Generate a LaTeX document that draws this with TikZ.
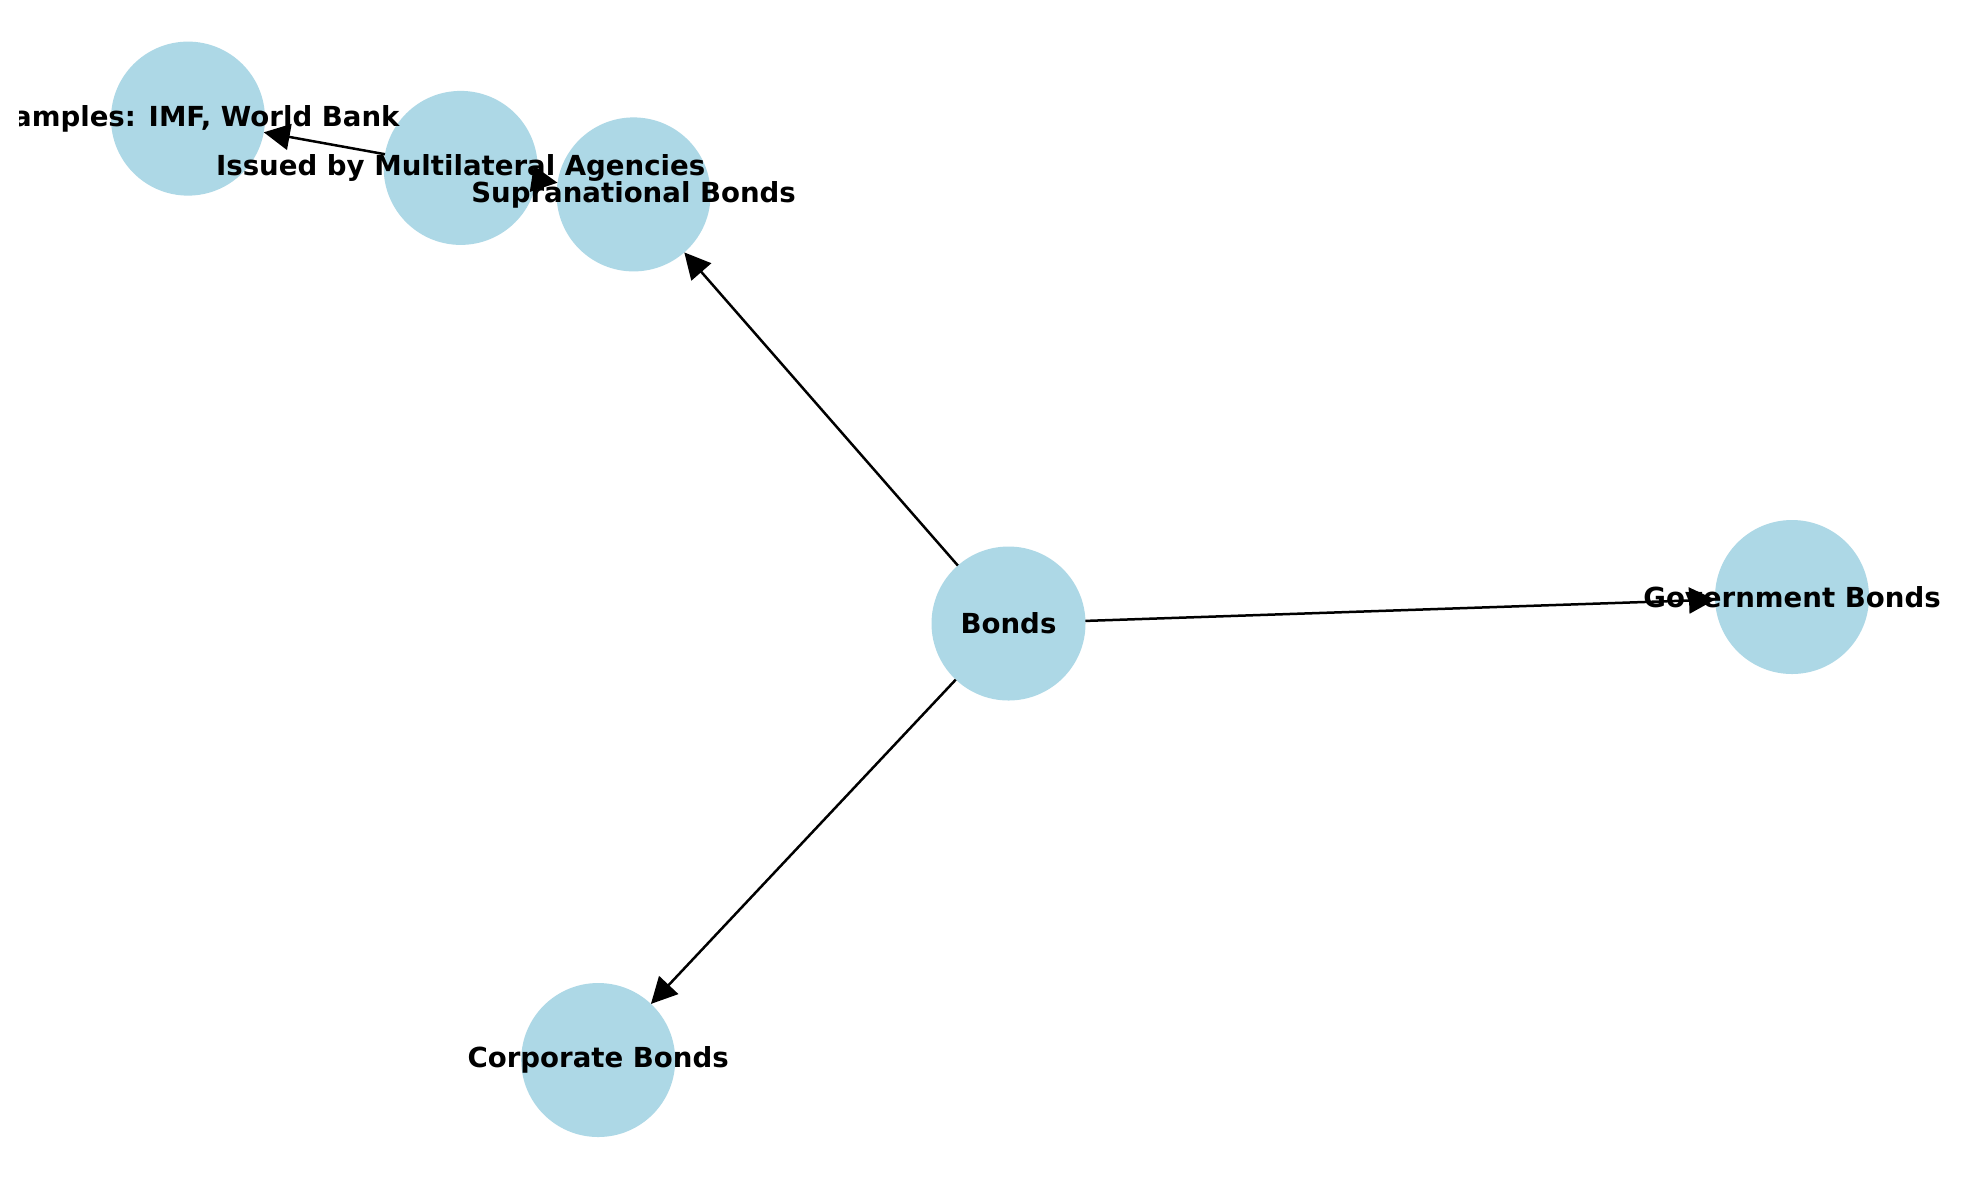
\documentclass[tikz,border=0pt]{standalone}
\usepackage{fontspec}
\setmainfont{DejaVu Sans}
\usetikzlibrary{arrows.meta}
\definecolor{nodeblue}{HTML}{ADD8E6}
\tikzset{
  bubble/.style={circle, fill=nodeblue, draw=none, minimum size=77pt, inner sep=0pt, outer sep=0pt},
  lbl/.style={font=\fontsize{13.8}{16}\selectfont\bfseries, inner sep=0pt, text=black},
  edge/.style={line width=1.25pt, -{Triangle[length=13pt, width=13pt]}}
}
\begin{document}
\begin{tikzpicture}[x=0.5pt, y=-0.5pt]
\useasboundingbox (0,0) rectangle (1979,1180);
\fill[white] (0,0) rectangle (1979,1180);
\begin{scope}
\clip (19,0) rectangle (1979,1180);
\node[bubble] (bonds) at (1008.5,623.5) {};
\node[bubble] (gov) at (1792,597) {};
\node[bubble] (corp) at (598.2,1060) {};
\node[bubble] (supra) at (633.6,194.4) {};
\node[bubble] (issued) at (460.7,167.9) {};
\node[bubble] (examples) at (188,118.6) {};
\draw[edge] (bonds) -- (supra);
\draw[edge] (bonds) -- (gov);
\draw[edge] (bonds) -- (corp);
\draw[edge] (issued) -- (supra);
\draw[edge] (issued) -- (examples);
\node[lbl] (tbonds) at (bonds) {Bonds};
\node[lbl] (tgov) at (gov) {Government Bonds};
\node[lbl] (tcorp) at (corp) {Corporate Bonds};
\node[lbl] (tsupra) at (supra) {Supranational Bonds};
\node[lbl] (tissued) at (issued) {Issued by Multilateral Agencies};
\node[lbl] (texamples) at (examples) {Examples: IMF, World Bank};
\end{scope}
\end{tikzpicture}
\end{document}
